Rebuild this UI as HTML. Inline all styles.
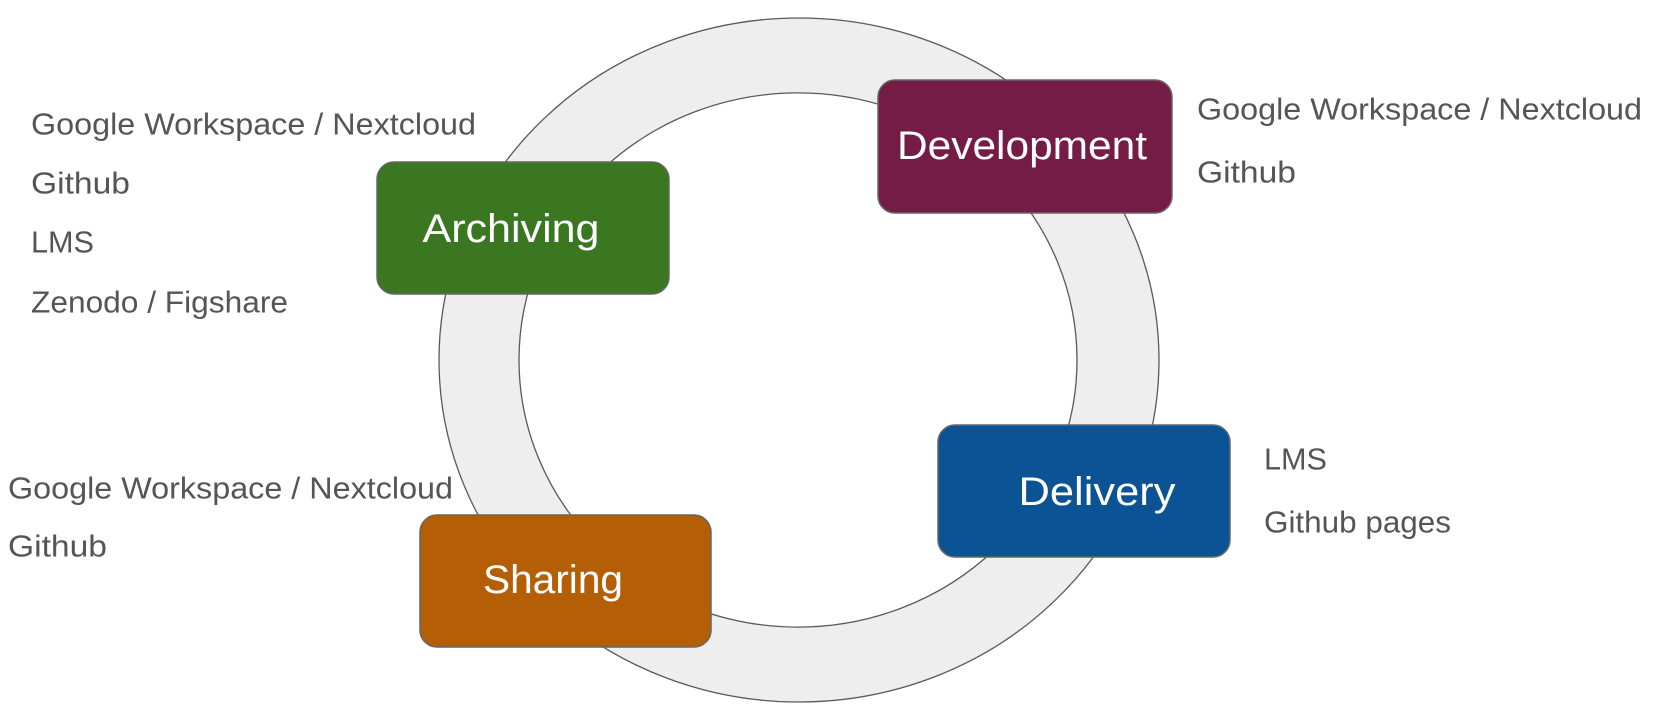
<!DOCTYPE html>
<html><head><style>
html,body{margin:0;padding:0;background:#fff;}
svg{display:block;}
</style></head><body>
<svg width="1660" height="712" viewBox="0 0 1660 712" xmlns="http://www.w3.org/2000/svg">
<path fill-rule="evenodd" fill="#eeeeee" stroke="#595959" stroke-width="1.3"
 d="M439,360 A360,342 0 1,0 1159,360 A360,342 0 1,0 439,360 Z M519,360 A279,267 0 1,1 1077,360 A279,267 0 1,1 519,360 Z"/>
<g stroke="#666" stroke-width="1.5">
<rect x="878" y="80" width="294" height="133" rx="17" fill="#751c46"/>
<rect x="377" y="162" width="292" height="132" rx="17" fill="#3a7720"/>
<rect x="938" y="425" width="292" height="132" rx="17" fill="#0c5395"/>
<rect x="420" y="515" width="291" height="132" rx="17" fill="#b45f06"/>
</g>
<g font-family="Liberation Sans, sans-serif" font-size="40" fill="#fff" text-anchor="middle" dominant-baseline="central" lengthAdjust="spacingAndGlyphs">
<text x="1022" y="146" textLength="250" lengthAdjust="spacingAndGlyphs">Development</text>
<text x="511" y="229" textLength="177" lengthAdjust="spacingAndGlyphs">Archiving</text>
<text x="1097" y="492" textLength="157" lengthAdjust="spacingAndGlyphs">Delivery</text>
<text x="553" y="580" textLength="140" lengthAdjust="spacingAndGlyphs">Sharing</text>
</g>
<g font-family="Liberation Sans, sans-serif" font-size="31" fill="#555" dominant-baseline="central">
<text x="31" y="124" textLength="445" lengthAdjust="spacingAndGlyphs">Google Workspace / Nextcloud</text>
<text x="31" y="183" textLength="99" lengthAdjust="spacingAndGlyphs">Github</text>
<text x="31" y="242" textLength="63" lengthAdjust="spacingAndGlyphs">LMS</text>
<text x="31" y="302" textLength="257" lengthAdjust="spacingAndGlyphs">Zenodo / Figshare</text>
<text x="1197" y="109" textLength="445" lengthAdjust="spacingAndGlyphs">Google Workspace / Nextcloud</text>
<text x="1197" y="172" textLength="99" lengthAdjust="spacingAndGlyphs">Github</text>
<text x="1264" y="459" textLength="63" lengthAdjust="spacingAndGlyphs">LMS</text>
<text x="1264" y="522" textLength="187" lengthAdjust="spacingAndGlyphs">Github pages</text>
<text x="8" y="488" textLength="445" lengthAdjust="spacingAndGlyphs">Google Workspace / Nextcloud</text>
<text x="8" y="546" textLength="99" lengthAdjust="spacingAndGlyphs">Github</text>
</g>
</svg>
</body></html>
